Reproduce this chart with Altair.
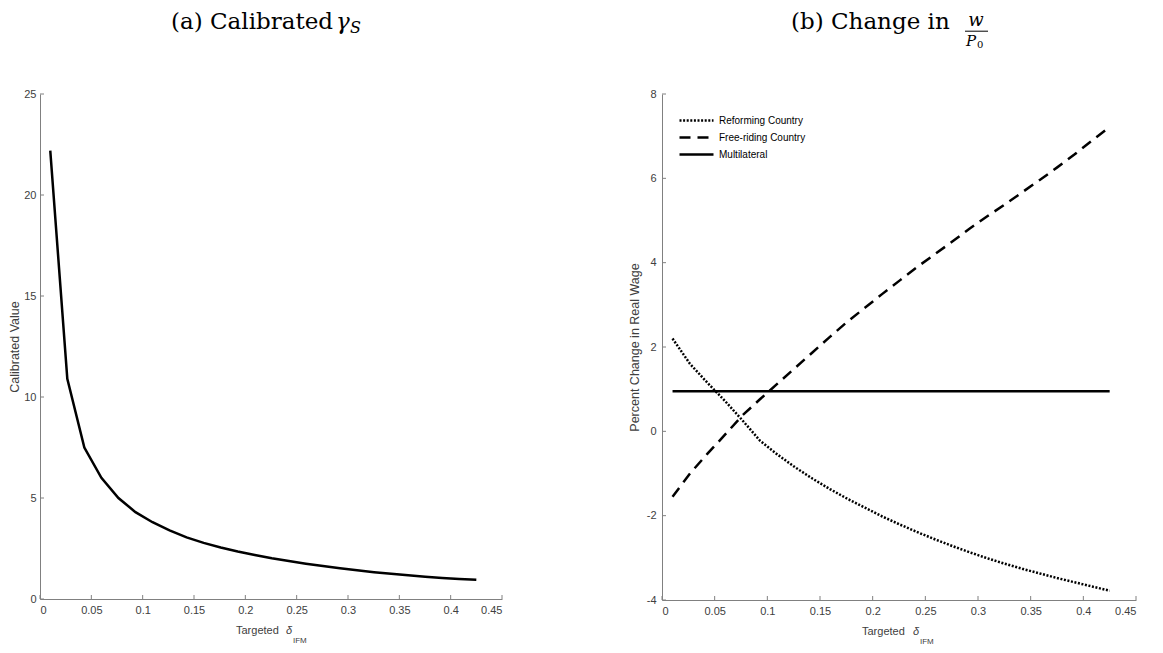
import altair as alt
import pandas as pd

# ---------------- data ----------------
delta = [0.010, 0.0266, 0.0432, 0.0598, 0.0764, 0.0930, 0.1096, 0.1262, 0.1428,
         0.1594, 0.1760, 0.1926, 0.2092, 0.2258, 0.2424, 0.2590, 0.2756, 0.2922,
         0.3088, 0.3254, 0.3420, 0.3586, 0.3752, 0.3918, 0.4084, 0.4250]
gamma_s = [22.2, 10.9, 7.5, 6.0, 5.0, 4.3, 3.8, 3.4, 3.05, 2.78, 2.55, 2.35, 2.18,
           2.02, 1.88, 1.75, 1.63, 1.52, 1.42, 1.33, 1.25, 1.17, 1.10, 1.04, 0.99, 0.95]
reforming = [2.2, 1.6, 1.15, 0.72, 0.26, -0.22, -0.55, -0.85, -1.12, -1.37, -1.6,
             -1.81, -2.02, -2.21, -2.39, -2.56, -2.72, -2.87, -3.01, -3.14, -3.26,
             -3.37, -3.48, -3.58, -3.68, -3.78]
free_riding = [-1.55, -1.0, -0.53, -0.08, 0.38, 0.76, 1.13, 1.5, 1.87, 2.24, 2.6,
               2.93, 3.26, 3.58, 3.9, 4.2, 4.5, 4.81, 5.1, 5.38, 5.67, 5.96, 6.26,
               6.57, 6.9, 7.22]
multilateral = [0.95] * len(delta)
series_names = ["Reforming Country", "Free-riding Country", "Multilateral"]
x_ticks = [0, 0.05, 0.1, 0.15, 0.2, 0.25, 0.3, 0.35, 0.4, 0.45]
y1_ticks = [0, 5, 10, 15, 20, 25]
y2_ticks = [-4, -2, 0, 2, 4, 6, 8]

# ---------------- styling ----------------
FONT = "Liberation Sans"
SERIF = "DejaVu Serif"
GREY = "#404040"
AXC = "#808080"
AX = dict(domainColor=AXC, domainWidth=1, tickSize=0, ticks=False,
          labelFont=FONT, labelFontSize=11, labelColor=GREY, titleFont=FONT,
          titleFontSize=12.5, titleColor=GREY, titleFontWeight="normal", grid=False)

W1, H1 = 462, 505
W2, H2 = 474, 506
TB = -64.8  # baseline of the panel titles, relative to the plot top


def txt(text, x, y, size, font=FONT, style="normal", align="left", color="black"):
    return alt.Chart(pd.DataFrame({"t": [text]})).mark_text(
        align=align, baseline="alphabetic", font=font, fontSize=size,
        fontStyle=style, color=color
    ).encode(x=alt.value(x), y=alt.value(y), text="t:N")


def inward_ticks(xf, xscale, xaxis, yf, yscale, yaxis, xt, yt, h):
    tx = alt.Chart(pd.DataFrame({xf: xt})).mark_rule(color=AXC, strokeWidth=1).encode(
        x=alt.X(f"{xf}:Q", scale=xscale, axis=xaxis),
        y=alt.value(h), y2=alt.value(h - 4))
    ty = alt.Chart(pd.DataFrame({yf: yt})).mark_rule(color=AXC, strokeWidth=1).encode(
        y=alt.Y(f"{yf}:Q", scale=yscale, axis=yaxis),
        x=alt.value(0), x2=alt.value(4))
    return tx, ty


# ---------------- panel (a) ----------------
df1 = pd.DataFrame({"delta": delta, "gamma": gamma_s})
xs_a = alt.Scale(domain=[0, 0.45], nice=False, zero=False)
xax_a = alt.Axis(values=x_ticks, format=".2~f", title=None, labelPadding=5, **AX)
ys_a = alt.Scale(domain=[0, 25], nice=False)
yax_a = alt.Axis(values=y1_ticks, title="Calibrated Value", titlePadding=2,
                 labelPadding=4, **AX)
line_a = alt.Chart(df1).mark_line(color="black", strokeWidth=2.5).encode(
    x=alt.X("delta:Q", scale=xs_a, axis=xax_a),
    y=alt.Y("gamma:Q", scale=ys_a, axis=yax_a))
tx_a, ty_a = inward_ticks("delta", xs_a, xax_a, "gamma", ys_a, yax_a, x_ticks, y1_ticks, H1)

panel_a = alt.layer(
    tx_a, ty_a, line_a,
    txt("(a) Calibrated", 131, TB, 23, font=SERIF),
    txt("γ", 296, TB, 23, font=SERIF, style="italic"),
    txt("S", 310, TB + 4, 16, font=SERIF, style="italic"),
    txt("Targeted", 196, H1 + 35, 11, color=GREY),
    txt("δ", 246, H1 + 35, 11, style="italic", color=GREY),
    txt("IFM", 253, H1 + 44, 8, color=GREY),
).properties(width=W1, height=H1)

# ---------------- panel (b) ----------------
df2 = pd.DataFrame({
    "delta": delta * 3,
    "value": reforming + free_riding + multilateral,
    "series": [series_names[0]] * len(delta) + [series_names[1]] * len(delta)
              + [series_names[2]] * len(delta),
})
xs_b = alt.Scale(domain=[0, 0.45], nice=False, zero=False)
xax_b = alt.Axis(values=x_ticks, format=".2~f", title=None, labelPadding=5, **AX)
ys_b = alt.Scale(domain=[-4, 8], nice=False, zero=False)
yax_b = alt.Axis(values=y2_ticks, title="Percent Change in Real Wage", titlePadding=5,
                 labelPadding=6,
                 labelExpr="datum.value < 0 ? '-' + abs(datum.value) : '' + datum.value",
                 **AX)
dash = alt.StrokeDash(
    "series:N",
    scale=alt.Scale(domain=series_names, range=[[2, 1.6], [11, 7], [1, 0]]),
    legend=alt.Legend(title=None, orient="none", legendX=28, legendY=20,
                      symbolType="M-3.4,0H3.4", symbolSize=100, symbolStrokeWidth=2.5,
                      symbolStrokeColor="black", labelFont=FONT, labelFontSize=10,
                      labelColor="black", rowPadding=5, padding=0, labelOffset=16),
)
line_b = alt.Chart(df2).mark_line(color="black", strokeWidth=2.5).encode(
    x=alt.X("delta:Q", scale=xs_b, axis=xax_b),
    y=alt.Y("value:Q", scale=ys_b, axis=yax_b),
    strokeDash=dash)
tx_b, ty_b = inward_ticks("delta", xs_b, xax_b, "value", ys_b, yax_b, x_ticks, y2_ticks, H2)

frac_bar = alt.Chart(pd.DataFrame({"a": [0]})).mark_rule(color="black", strokeWidth=1).encode(
    x=alt.value(303), x2=alt.value(326), y=alt.value(TB + 2))

panel_b = alt.layer(
    tx_b, ty_b, line_b,
    txt("(b) Change in", 129, TB, 23, font=SERIF),
    txt("w", 314, TB - 3, 18, font=SERIF, style="italic", align="center"),
    frac_bar,
    txt("P", 304, TB + 16.5, 15, font=SERIF, style="italic"),
    txt("0", 315, TB + 18.5, 10, font=SERIF),
    txt("Targeted", 200, H2 + 35, 11, color=GREY),
    txt("δ", 251, H2 + 35, 11, style="italic", color=GREY),
    txt("IFM", 258, H2 + 44, 8, color=GREY),
).properties(width=W2, height=H2)

chart = alt.hconcat(panel_a, panel_b, spacing=125).resolve_legend(
    strokeDash="independent"
).properties(
    padding={"left": 0, "top": 3, "right": 5, "bottom": 5},
    background="white",
).configure_view(stroke=None)

chart.save("out.html", embed_options={"renderer": "svg", "actions": False})
